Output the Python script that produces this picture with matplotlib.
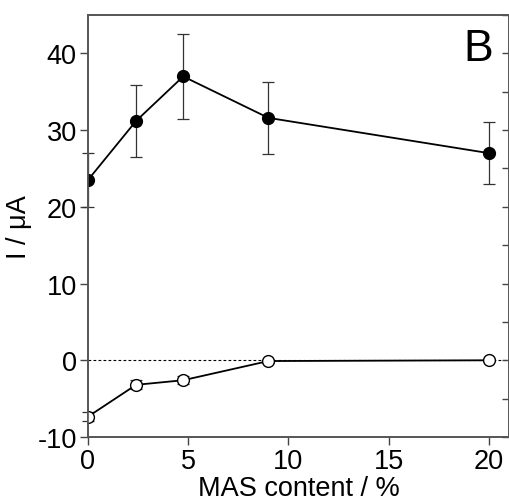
import matplotlib.pyplot as plt
from matplotlib.ticker import MultipleLocator

plt.rcParams['font.family'] = ['Liberation Sans', 'DejaVu Sans']
plt.rcParams['axes.unicode_minus'] = False

# MAS content (%) and current (uA)
mas = [0, 2.4, 4.75, 9.0, 20.0]
i_filled = [23.5, 31.2, 37.0, 31.6, 27.0]
err_filled = [3.5, 4.7, 5.5, 4.7, 4.05]
i_open = [-7.35, -3.2, -2.6, -0.1, 0.0]
err_open = [0.6, 0.6, 0.5, 0.2, 0.1]

fig = plt.figure(figsize=(5.10, 5.02), dpi=100)
ax = fig.add_axes([0.1725, 0.1275, 0.8255, 0.8405])

ax.axhline(0, color='black', lw=0.8, ls=(0, (2.5, 2)), zorder=1)

for y, e, fc in [(i_filled, err_filled, 'black'), (i_open, err_open, 'white')]:
    eb = ax.errorbar(mas, y, yerr=e, fmt='none', ecolor='#333333',
                     elinewidth=0.9, capsize=4.5, capthick=0.9, zorder=2)
    for art in eb.get_children():
        art.set_clip_on(False)
    ax.plot(mas, y, '-o', color='black', lw=1.3, ms=8.5,
            mfc=fc, mec='black', mew=1.0, zorder=3)

ax.set_xlim(0, 21)
ax.set_ylim(-10, 45)
ax.xaxis.set_major_locator(MultipleLocator(5))
ax.set_yticks([-10, 0, 10, 20, 30, 40])

ax.tick_params(axis='both', which='major', direction='out', length=6,
               width=1, color='#444444', labelsize=19.5, pad=2,
               top=False, right=False)

# inner ticks along the right spine every 5 units
ax2 = ax.twinx()
ax2.set_ylim(ax.get_ylim())
ax2.yaxis.set_major_locator(MultipleLocator(5))
ax2.tick_params(axis='y', direction='in', length=5, width=1,
                color='#444444', labelright=False)

for a in (ax, ax2):
    for sp in a.spines.values():
        sp.set_color('#555555')
        sp.set_linewidth(1.2)

ax.text(0.962, 0.893, 'B', transform=ax.transAxes, fontsize=32,
        ha='right', va='baseline')

ax.set_xlabel('MAS content / %', fontsize=19.5, labelpad=1)
ax.set_ylabel('I / μA', fontsize=19.5, labelpad=4)

fig.savefig('out.png', dpi=100)
